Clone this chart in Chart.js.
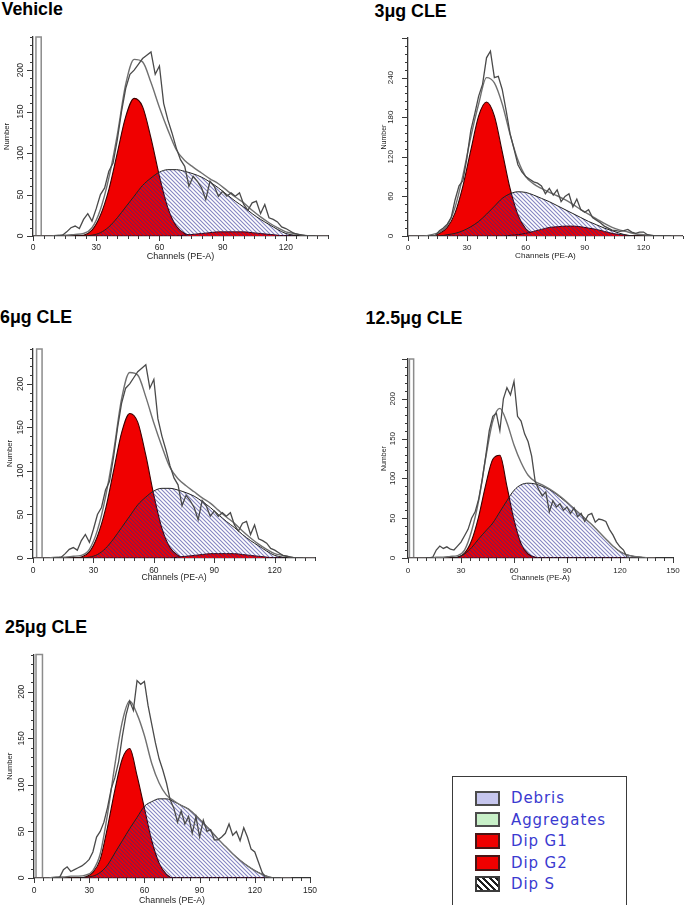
<!DOCTYPE html>
<html><head><meta charset="utf-8">
<script src="https://cdn.jsdelivr.net/npm/chart.js@4.4.1/dist/chart.umd.min.js"></script>
<style>
html,body{margin:0;padding:0;background:#fff;}
body{position:relative;width:685px;height:905px;overflow:hidden;}
.ttl{position:absolute;font-family:"Liberation Sans",Arial,sans-serif;font-weight:bold;font-size:17.8px;line-height:20px;color:#000;white-space:nowrap;}
.box{position:absolute;}
.box canvas{display:block;}
#lg{position:absolute;left:452px;top:775.5px;width:175px;height:140px;border:1.5px solid #3a3a3a;box-sizing:border-box;}
.sw{position:absolute;left:475px;width:25px;height:15.5px;box-sizing:border-box;border:2px solid #4c4c4c;}
.lt{position:absolute;left:511px;font-family:"DejaVu Sans",sans-serif;font-size:15px;letter-spacing:0.9px;line-height:18px;color:#3a3ad0;white-space:nowrap;}
</style></head><body>
<script>
// ---------------- DATA ----------------
const panelTitles = ['Vehicle', '3μg CLE', '6μg CLE', '12.5μg CLE', '25μg CLE'];
const xAxisMax = [140, 140, 140, 150, 150];
const yAxisMax = [240, 300, 240, 250, 240];
const yMajorStep = [50, 60, 50, 50, 50];
const yMinorStep = [10, 12, 10, 10, 10];
const xMajorStep = 30;
const xMinorStep = 5;
const markerEdges = [[1.4, 3.9], null, [1.8, 4.5], [0.8, 3.2], [1.1, 4.6]];
const legendLabels = ['Debris', 'Aggregates', 'Dip G1', 'Dip G2', 'Dip S'];

const fitChannels = [0,4,8,12,16,20,24,28,32,36,40,44,48,52,56,60,64,68,72,76,80,84,88,92,96,100,104,108,112,116,120,124,128,132,136,140];
const rawChannels = [10,12,14,16,18,20,22,24,26,28,30,32,34,36,38,40,42,44,46,48,50,52,54,56,58,60,62,64,66,68,70,72,74,76,78,80,82,84,86,88,90,92,94,96,98,100,102,104,106,108,110,112,114,116,118,120,122,124,126,128,130,132,134];

// Vehicle
const vehicleRaw = [0,0,1,5,10,12,9,20,27,18, 33,50,58,78,88,116,150,178,195,200, 207,214,218,222,195,205,160,140,124,106, 92,84,60,72,66,58,44,66,60,48, 54,48,52,48,52,38,31,40,42,27, 38,22,20,17,11,9,6,3,2,1, 0,0,0];
const vehicleFit = [0,0,0,1,1,2,3,10,32,70,122,183,213,210,185,155,128,104,91,83,76,69,63,55,47,40,31,23,16,10,5,3,1,0,0,0];
const vehicleG1  = [0,0,0,0,0,0,1,7,25,56,100,144,166,156,118,72,34,12,3,0,0,0,0,0,0,0,0,0,0,0,0,0,0,0,0,0];
const vehicleG2  = [0,0,0,0,0,0,0,0,0,0,0,0,0,0,0,0,0,0,1,2,3,4,5,5,5,5,4,3,2,1,0,0,0,0,0,0];
const vehicleS   = [0,0,0,0,0,0,0,1,4,11,22,35,48,61,70,77,80,80,78,75,71,65,58,50,42,35,27,20,14,8,3,1,0,0,0,0];

// 3 μg CLE
const cle3Raw = [0,0,1,8,12,18,28,55,76,84, 118,160,185,212,230,270,280,240,242,222, 190,155,132,108,97,90,86,82,80,76, 64,72,62,70,52,60,64,44,56,40, 36,40,28,24,20,15,12,9,8,7, 8,10,6,4,6,6,2,1,0,0, 0,0,0];
const cle3Fit = [0,0,0,2,6,16,44,92,150,200,240,232,200,154,115,90,79,72,66,61,55,48,40,33,26,19,13,9,6,3,2,1,0,0,0,0];
const cle3G1  = [0,0,0,0,4,13,35,76,130,182,203,182,128,72,32,11,3,1,0,0,0,0,0,0,0,0,0,0,0,0,0,0,0,0,0,0];
const cle3G2  = [0,0,0,0,0,0,0,0,0,0,0,0,0,1,2,4,7,10,13,14,15,15,14,12,10,7,4,2,1,0,0,0,0,0,0,0];
const cle3S   = [0,0,0,0,0,2,4,8,14,22,33,45,57,64,67,66,62,57,52,46,40,34,28,22,17,12,8,4,1,0,0,0,0,0,0,0];

// 6 μg CLE
const cle6Raw = [0,0,1,5,10,12,9,20,27,18, 33,50,58,78,88,116,150,178,195,200, 207,214,218,222,195,205,160,140,124,106, 92,84,60,72,66,58,44,66,60,48, 54,48,52,48,52,38,31,40,42,27, 38,22,20,17,11,9,6,3,2,1, 0,0,0];
const cle6Fit = [0,0,0,1,1,2,3,10,32,70,122,183,213,210,185,155,128,104,91,83,76,69,63,55,47,40,31,23,16,10,5,3,1,0,0,0];
const cle6G1  = [0,0,0,0,0,0,1,7,25,56,100,144,166,156,118,72,34,12,3,0,0,0,0,0,0,0,0,0,0,0,0,0,0,0,0,0];
const cle6G2  = [0,0,0,0,0,0,0,0,0,0,0,0,0,0,0,0,0,0,1,2,3,4,5,5,5,5,4,3,2,1,0,0,0,0,0,0];
const cle6S   = [0,0,0,0,0,0,0,1,4,11,22,35,48,61,70,77,80,80,78,75,71,65,58,50,42,35,27,20,14,8,3,1,0,0,0,0];

// 12.5 μg CLE
const cle12Raw = [0,0,1,10,15,12,14,11,10,15, 20,28,36,50,58,74,98,128,160,178, 182,160,200,214,205,222,178,172,156,146, 128,96,86,78,83,58,72,64,68,60, 64,56,63,52,56,46,54,56,45,49, 48,46,36,29,20,14,10,1,0,0, 0,0,0];
const cle12Fit = [0,0,0,0,1,1,2,3,10,34,72,126,172,188,170,142,120,104,96,92,87,81,74,66,58,50,42,33,24,15,8,4,2,1,0,0];
const cle12G1  = [0,0,0,0,0,0,0,1,6,22,52,92,124,129,90,48,18,5,1,0,0,0,0,0,0,0,0,0,0,0,0,0,0,0,0,0];
const cle12G2  = [0,0,0,0,0,0,0,0,0,0,0,0,0,0,0,0,0,0,0,0,0,0,0,0,0,0,0,0,0,0,0,0,0,0,0,0];
const cle12S   = [0,0,0,0,0,0,0,1,5,13,24,34,44,58,72,85,92,94,93,90,86,80,73,66,58,50,42,33,24,15,8,4,2,1,0,0];

// 25 μg CLE
const cle25Raw = [0,0,1,9,12,7,9,11,13,16, 20,28,44,50,60,76,96,108,125,152, 175,190,180,212,208,211,185,165,145,128, 116,102,84,75,60,72,58,66,48,66, 44,62,50,52,41,41,44,48,58,46, 50,40,54,44,31,28,17,6,0,0, 0,0,0];
const cle25Fit = [0,0,0,1,1,2,2,3,8,26,69,122,168,190,176,153,123,102,89,83,78,74,67,59,51,42,34,26,19,13,8,4,1,0,0,0];
const cle25G1  = [0,0,0,0,0,0,0,1,6,20,55,95,128,139,110,75,40,16,4,0,0,0,0,0,0,0,0,0,0,0,0,0,0,0,0,0];
const cle25G2  = [0,0,0,0,0,0,0,0,0,0,0,0,0,0,0,0,0,0,0,0,0,0,0,0,0,0,0,0,0,0,0,0,0,0,0,0];
const cle25S   = [0,0,0,0,0,0,0,1,2,6,14,27,40,53,65,77,82,85,85,82,78,74,67,59,51,42,34,26,19,13,8,4,1,0,0,0];

const panelRaw = [vehicleRaw, cle3Raw, cle6Raw, cle12Raw, cle25Raw];
const panelFit = [vehicleFit, cle3Fit, cle6Fit, cle12Fit, cle25Fit];
const panelG1  = [vehicleG1, cle3G1, cle6G1, cle12G1, cle25G1];
const panelG2  = [vehicleG2, cle3G2, cle6G2, cle12G2, cle25G2];
const panelS   = [vehicleS, cle3S, cle6S, cle12S, cle25S];

// ---------------- LAYOUT / STYLE ----------------
const layouts = [
  {left:0,   top:28,  w:340, h:242, padTop:9,   padRight:12, yW:33, xH:34, tickFont:8.5, xTickPad:1.9, xTitleFont:9,   xTitlePad:7.6, yTickPad:-0.8, yTitleFont:7.6, yTitlePad:2.4, tl:1.5,   tt:-1},
  {left:372, top:28,  w:313, h:242, padTop:10,  padRight:2,  yW:36, xH:34, tickFont:8,   xTickPad:2.2, xTitleFont:8.1, xTitlePad:9.1, yTickPad:4.2,  yTitleFont:7,   yTitlePad:7.8, tl:374.5, tt:0.5},
  {left:0,   top:340, w:340, h:252, padTop:9,   padRight:25, yW:33, xH:34, tickFont:8.5, xTickPad:2.6, xTitleFont:8.7, xTitlePad:8.8, yTickPad:-0.8, yTitleFont:7.6, yTitlePad:5.4, tl:0,     tt:307},
  {left:372, top:340, w:313, h:252, padTop:19,  padRight:12, yW:36, xH:34, tickFont:8,   xTickPad:3.2, xTitleFont:7.8, xTitlePad:9.3, yTickPad:3,    yTitleFont:7,   yTitlePad:7.8, tl:365.5, tt:308},
  {left:0,   top:645, w:340, h:261, padTop:9.5, padRight:30, yW:34, xH:28, tickFont:8.5, xTickPad:2.9, xTitleFont:8.8, xTitlePad:0,   yTickPad:-0.8, yTitleFont:7.6, yTitlePad:5.4, tl:5,     tt:617}
];
const FONT = '"Liberation Sans", Arial, sans-serif';
const legendStyles = [
  {bg:'#c6c6ee', bd:'#4c4c4c'},
  {bg:'#c8f0c8', bd:'#4c4c4c'},
  {bg:'#f00000', bd:'#4a1414'},
  {bg:'#f00000', bd:'#4a1414'},
  {bg:'repeating-linear-gradient(45deg,#fff 0 2.6px,#1e1e1e 2.6px 4.6px)', bd:'#3c3c3c'}
];
const legendSwatchTops = [790.6, 811.8, 833.3, 855, 876];
const legendTextTops = [789.3, 810.8, 832.1, 853.8, 875.3];

function pts(ch, vals) { return ch.map((c, i) => ({x: c, y: vals[i]})); }

function makeHatch() {
  const c = document.createElement('canvas');
  c.width = 4; c.height = 4;
  const g = c.getContext('2d');
  g.strokeStyle = 'rgba(45,45,150,0.58)';
  g.lineWidth = 1.1;
  g.beginPath();
  g.moveTo(-1, -1); g.lineTo(5, 5);
  g.moveTo(-1, 3); g.lineTo(1, 5);
  g.moveTo(3, -1); g.lineTo(5, 1);
  g.stroke();
  return g.createPattern(c, 'repeat');
}
const hatch = makeHatch();

const tickMarks = {
  id: 'tickMarks',
  afterDraw(chart, args, o) {
    const ctx = chart.ctx, xs = chart.scales.x, ys = chart.scales.y;
    ctx.save();
    ctx.strokeStyle = '#3a3a3a';
    ctx.lineWidth = 1;
    ctx.beginPath();
    for (let v = xs.min; v <= xs.max + 1e-6; v += o.xMinor) {
      const p = Math.round(xs.getPixelForValue(v)) + 0.5;
      const len = Math.abs(v % o.xMajor) < 1e-6 ? 5 : 3;
      ctx.moveTo(p, xs.top); ctx.lineTo(p, xs.top + len);
    }
    for (let v = ys.min; v <= ys.max + 1e-6; v += o.yMinor) {
      const p = Math.round(ys.getPixelForValue(v)) + 0.5;
      const len = Math.abs(v % o.yMajor) < 1e-6 ? 6 : 3;
      ctx.moveTo(ys.right, p); ctx.lineTo(ys.right - len, p);
    }
    ctx.stroke();
    ctx.restore();
  }
};

function buildPanel(i) {
  const L = layouts[i];
  const t = document.createElement('div');
  t.className = 'ttl';
  t.style.left = L.tl + 'px'; t.style.top = L.tt + 'px';
  t.textContent = panelTitles[i];
  document.body.appendChild(t);

  const box = document.createElement('div');
  box.className = 'box';
  box.style.left = L.left + 'px'; box.style.top = L.top + 'px';
  const cv = document.createElement('canvas');
  cv.width = L.w; cv.height = L.h;
  box.appendChild(cv);
  document.body.appendChild(box);

  const yMax = yAxisMax[i], yMaj = yMajorStep[i];
  const datasets = [
    {label:'raw', data: pts(rawChannels, panelRaw[i]), borderColor:'#4a4a4a', borderWidth:1.3, pointRadius:0, tension:0, fill:false, order:0},
    {label:'fit', data: pts(fitChannels, panelFit[i]), borderColor:'#707070', borderWidth:1.4, pointRadius:0, cubicInterpolationMode:'monotone', fill:false, order:1},
    {label:'Dip S', data: pts(fitChannels, panelS[i]), borderColor:'#222', borderWidth:1, backgroundColor: hatch, fill:'origin', pointRadius:0, cubicInterpolationMode:'monotone', order:2},
    {label:'Dip G2', data: pts(fitChannels, panelG2[i]), borderColor:'#3a0000', borderWidth:1, backgroundColor:'#f00000', fill:'origin', pointRadius:0, cubicInterpolationMode:'monotone', order:3},
    {label:'Dip G1', data: pts(fitChannels, panelG1[i]), borderColor:'#3a0000', borderWidth:1.1, backgroundColor:'#f00000', fill:'origin', pointRadius:0, cubicInterpolationMode:'monotone', order:4}
  ];
  const m = markerEdges[i];
  if (m) {
    datasets.push({label:'marker', data:[{x:m[0], y:0}, {x:m[0], y:yMax}, {x:m[1], y:yMax}, {x:m[1], y:0}],
      borderColor:'#8c8c8c', borderWidth:1.5, pointRadius:0, tension:0, fill:false, order:5, clip:4});
  }

  new Chart(cv, {
    type: 'line',
    data: {datasets},
    options: {
      responsive: false, animation: false, events: [],
      layout: {padding: {top: L.padTop, right: L.padRight, left: 0, bottom: 0}},
      plugins: {legend: {display: false}, tooltip: {enabled: false},
        tickMarks: {xMinor: xMinorStep, xMajor: xMajorStep, yMinor: yMinorStep[i], yMajor: yMaj}},
      scales: {
        x: {type: 'linear', min: 0, max: xAxisMax[i],
          afterFit: s => { s.height = L.xH; },
          ticks: {stepSize: xMajorStep, autoSkip: false, minRotation: 0, maxRotation: 0, padding: L.xTickPad,
            color: '#1e1e1e', font: {family: FONT, size: L.tickFont},
            callback: v => (v % xMajorStep === 0 ? String(v) : '')},
          grid: {display: true, drawOnChartArea: false, drawTicks: true, tickLength: 5, color: 'rgba(0,0,0,0)'},
          border: {display: true, color: '#333', width: 1.3},
          title: {display: true, text: 'Channels (PE-A)', color: '#222', font: {family: FONT, size: L.xTitleFont}, padding: {top: 0, bottom: L.xTitlePad}}
        },
        y: {type: 'linear', min: 0, max: yMax,
          afterFit: s => { s.width = L.yW; },
          ticks: {stepSize: yMaj, autoSkip: false, minRotation: 90, maxRotation: 90, crossAlign: 'center', padding: L.yTickPad,
            color: '#1e1e1e', font: {family: FONT, size: L.tickFont},
            callback: v => ((v % yMaj === 0 && v !== yMax) ? String(v) : '')},
          grid: {display: true, drawOnChartArea: false, drawTicks: true, tickLength: 6, color: 'rgba(0,0,0,0)'},
          border: {display: true, color: '#333', width: 1.3},
          title: {display: true, text: 'Number', color: '#222', font: {family: FONT, size: L.yTitleFont}, padding: {top: L.yTitlePad, bottom: 0}}
        }
      }
    },
    plugins: [tickMarks]
  });
}

for (let i = 0; i < 5; i++) buildPanel(i);

// legend
const lg = document.createElement('div');
lg.id = 'lg';
document.body.appendChild(lg);
legendLabels.forEach((lab, k) => {
  const sw = document.createElement('div');
  sw.className = 'sw';
  sw.style.top = legendSwatchTops[k] + 'px';
  sw.style.background = legendStyles[k].bg;
  sw.style.borderColor = legendStyles[k].bd;
  document.body.appendChild(sw);
  const tx = document.createElement('div');
  tx.className = 'lt';
  tx.style.top = legendTextTops[k] + 'px';
  tx.textContent = lab;
  document.body.appendChild(tx);
});
</script>
</body></html>
